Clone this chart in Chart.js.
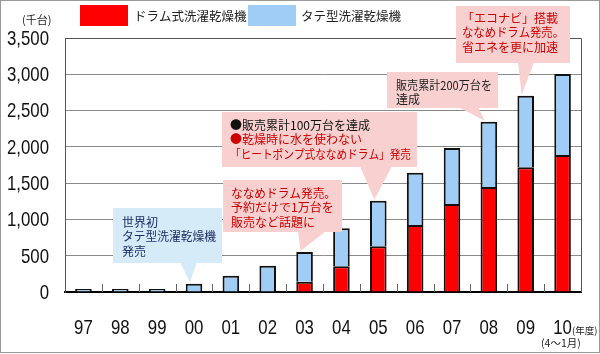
<!DOCTYPE html>
<html>
<head>
<meta charset="utf-8">
<script src="https://cdn.jsdelivr.net/npm/chart.js@4.4.1/dist/chart.umd.min.js"></script>
<style>
  html, body { margin: 0; padding: 0; background: #fff; }
  #wrap { width: 600px; height: 354px; position: relative; }
</style>
</head>
<body>
<div id="wrap"><canvas id="chart" width="600" height="354"></canvas></div>
<script>
// 年度ごとの販売台数（千台）
const years = ['97', '98', '99', '00', '01', '02', '03', '04', '05', '06', '07', '08', '09', '10'];
const drumUnits = [0, 0, 0, 0, 0, 0, 142, 354, 630, 923, 1213, 1447, 1718, 1888];
const tateUnits = [40, 40, 40, 115, 225, 362, 409, 524, 628, 721, 771, 900, 987, 1116];
const yTicks = [0, 500, 1000, 1500, 2000, 2500, 3000, 3500];

const seriesNames = ['ドラム式洗濯乾燥機', 'タテ型洗濯乾燥機'];

// 吹き出し（位置はレイアウト用）
const callouts = [
  { x: 113, y: 208, w: 109, h: 55, base: [180, 197], idx: 3, fill: '#d5ebf8',
    tx: 122, ty: 222, lines: [['世界初', '#1c2d66'], ['タテ型洗濯乾燥機', '#1c2d66'], ['発売', '#1c2d66']] },
  { x: 223, y: 180, w: 119, h: 52, base: [298, 326], idx: 6, fill: '#f9d0d0',
    tx: 231, ty: 193, lines: [['ななめドラム発売。', '#cc0000'], ['予約だけで1万台を', '#cc0000'], ['販売など話題に', '#cc0000']] },
  { x: 222, y: 112, w: 195, h: 55, base: [360, 392], idx: 8, fill: '#f9d0d0',
    tx: 230, ty: 125, lines: [['●販売累計100万台を達成', '#111'], ['●乾燥時に水を使わない', '#cc0000'], ['「ヒートポンプ式ななめドラム」発売', '#cc0000']] },
  { x: 387, y: 72, w: 111, h: 36, base: [458, 478], idx: 11, fill: '#f9d0d0',
    tx: 396, ty: 85, lines: [['販売累計200万台を', '#222'], ['達成', '#222']] },
  { x: 456, y: 6, w: 114, h: 57, base: [518, 534], idx: 12, fill: '#f9d0d0',
    tx: 462, ty: 18, lines: [['「エコナビ」搭載', '#cc0000'], ['ななめドラム発売。', '#cc0000'], ['省エネを更に加速', '#cc0000']] }
];

const cjk = '"Noto Sans CJK JP", "Noto Sans", sans-serif';
const numFont = '21px "Liberation Sans", Arial, sans-serif';

// 細長い数字（横方向に縮めて描く）
function narrowText(ctx, text, x, y, align) {
  ctx.save();
  ctx.translate(x, y);
  ctx.scale(0.8, 1);
  ctx.textAlign = align;
  ctx.fillText(text, 0, 0);
  ctx.restore();
}

const decoPlugin = {
  id: 'deco',
  afterDatasetsDraw(chart) {
    const ctx = chart.ctx;
    const area = chart.chartArea;
    const xs = chart.scales.x, ys = chart.scales.y;
    ctx.save();

    // 枠（上・右）
    ctx.strokeStyle = '#555';
    ctx.lineWidth = 1;
    ctx.beginPath();
    ctx.moveTo(area.left, area.top + 0.5);
    ctx.lineTo(area.right + 0.5, area.top + 0.5);
    ctx.lineTo(area.right + 0.5, area.bottom);
    ctx.stroke();

    // 区切りの目盛り
    ctx.strokeStyle = '#666';
    for (let i = 1; i < years.length; i++) {
      const px = Math.round((xs.getPixelForValue(i - 1) + xs.getPixelForValue(i)) / 2) + 0.5;
      ctx.beginPath();
      ctx.moveTo(px, area.bottom - 8);
      ctx.lineTo(px, area.bottom);
      ctx.stroke();
    }

    // 軸ラベル
    ctx.fillStyle = '#111';
    ctx.font = numFont;
    ctx.textBaseline = 'middle';
    yTicks.forEach(v => narrowText(ctx, v.toLocaleString('en-US'), 49, ys.getPixelForValue(v) + 1, 'right'));
    years.forEach((lab, i) => narrowText(ctx, lab, xs.getPixelForValue(i), 328, 'center'));

    // 吹き出し
    callouts.forEach(c => {
      const total = drumUnits[c.idx] + tateUnits[c.idx];
      const tipX = xs.getPixelForValue(c.idx) - 4;
      const tipY = ys.getPixelForValue(total) - 1;
      ctx.fillStyle = c.fill;
      ctx.fillRect(c.x, c.y, c.w, c.h);
      ctx.beginPath();
      ctx.moveTo(c.base[0], c.y + c.h - 1);
      ctx.lineTo(c.base[1], c.y + c.h - 1);
      ctx.lineTo(tipX, tipY);
      ctx.closePath();
      ctx.fill();
      ctx.font = '12px ' + cjk;
      ctx.textBaseline = 'middle';
      ctx.textAlign = 'left';
      const maxW = c.x + c.w - c.tx - 6;
      c.lines.forEach((ln, k) => {
        ctx.fillStyle = ln[1];
        ctx.fillText(ln[0], c.tx, c.ty + k * 14.5, maxW);
      });
    });

    // 凡例
    ctx.fillStyle = '#ff0000';
    ctx.fillRect(80, 5, 48, 21);
    ctx.fillStyle = '#9fcdf5';
    ctx.fillRect(248, 5, 48, 21);
    ctx.fillStyle = '#222';
    ctx.font = '12.5px ' + cjk;
    ctx.textBaseline = 'middle';
    ctx.textAlign = 'left';
    ctx.fillText(seriesNames[0], 134, 16);
    ctx.fillText(seriesNames[1], 301, 16);

    // 単位
    ctx.font = '11px ' + cjk;
    ctx.fillText('(千台)', 22, 20);
    ctx.font = '9.5px ' + cjk;
    ctx.fillText('(年度)', 572, 330);
    ctx.font = '10.5px ' + cjk;
    ctx.fillText('(4〜1月)', 541, 343);

    // 外枠
    ctx.strokeStyle = '#999';
    ctx.strokeRect(0.5, 0.5, 599, 352);
    ctx.restore();
  }
};

new Chart(document.getElementById('chart'), {
  type: 'bar',
  data: {
    labels: years,
    datasets: [
      { label: seriesNames[0], data: drumUnits, backgroundColor: '#ff0000', borderColor: '#111', borderWidth: 2 },
      { label: seriesNames[1], data: tateUnits, backgroundColor: '#9fcdf5', borderColor: '#111', borderWidth: 2 }
    ]
  },
  options: {
    responsive: false,
    animation: false,
    layout: { padding: { top: 38, right: 19, left: 0, bottom: 0 } },
    datasets: { bar: { categoryPercentage: 1, barPercentage: 0.45 } },
    plugins: { legend: { display: false }, tooltip: { enabled: false } },
    scales: {
      x: {
        stacked: true,
        grid: { display: false },
        border: { color: '#000', width: 2 },
        ticks: { callback: () => '' },
        afterFit(s) { s.height = 62; }
      },
      y: {
        stacked: true,
        min: 0,
        max: 3500,
        afterBuildTicks(s) { s.ticks = yTicks.map(v => ({ value: v })); },
        grid: { color: '#8a8a8a', lineWidth: 1, drawTicks: false },
        border: { color: '#555', width: 1 },
        ticks: { callback: () => '' },
        afterFit(s) { s.width = 65; }
      }
    }
  },
  plugins: [decoPlugin]
});
</script>
</body>
</html>
